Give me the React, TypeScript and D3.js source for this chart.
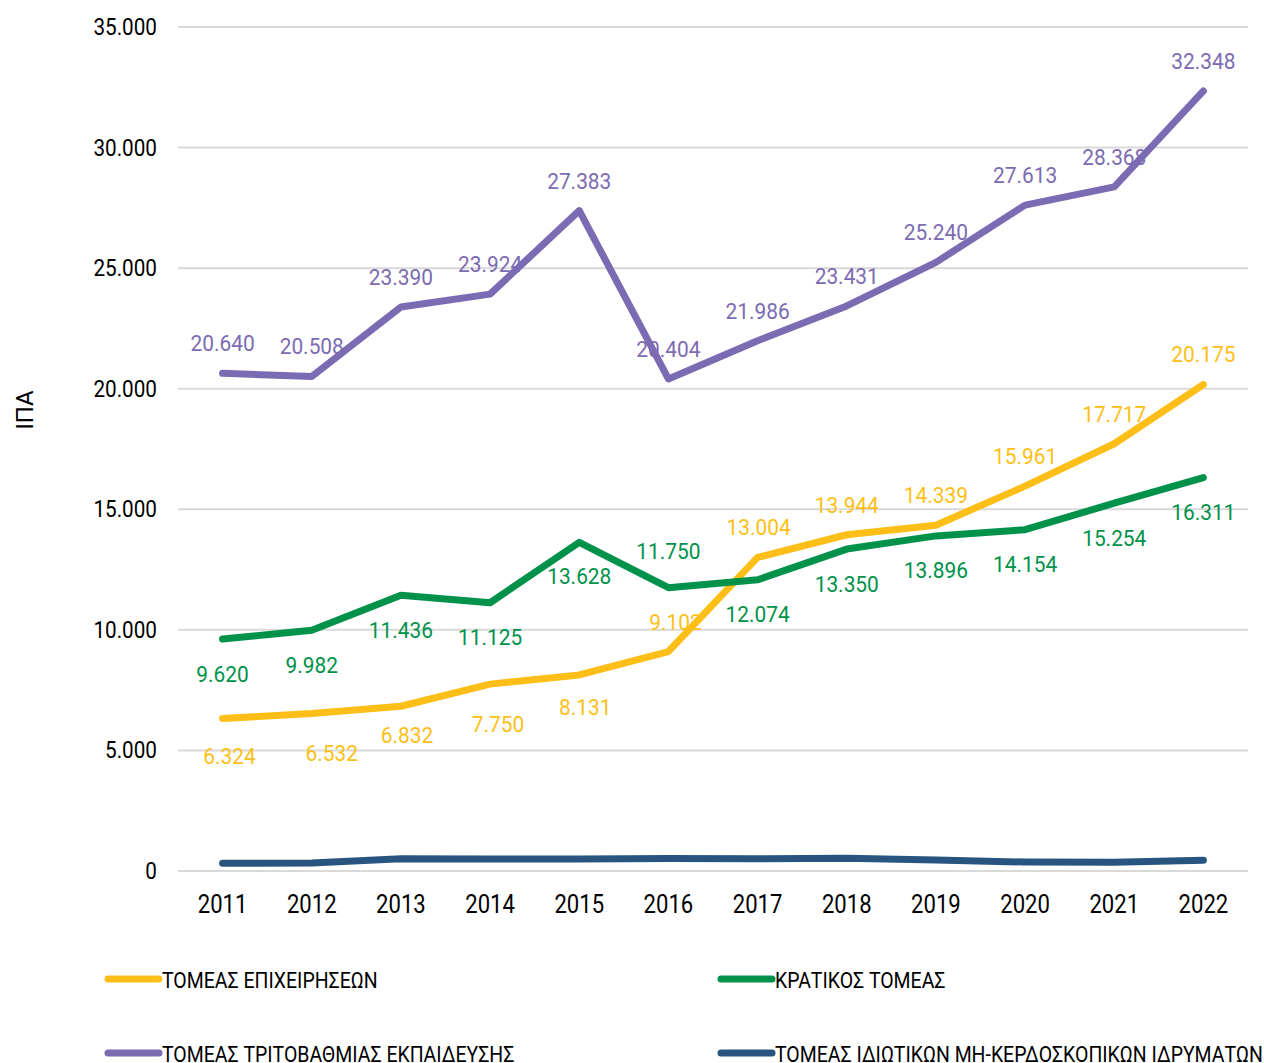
import React from "react";
import * as d3 from "d3";

const years = ["2011","2012","2013","2014","2015","2016","2017","2018","2019","2020","2021","2022"];
const businessValues = [6324, 6532, 6832, 7750, 8131, 9102, 13004, 13944, 14339, 15961, 17717, 20175];
const governmentValues = [9620, 9982, 11436, 11125, 13628, 11750, 12074, 13350, 13896, 14154, 15254, 16311];
const higherEduValues = [20640, 20508, 23390, 23924, 27383, 20404, 21986, 23431, 25240, 27613, 28368, 32348];
const privateNonProfitValues = [320, 330, 510, 500, 500, 520, 510, 530, 460, 370, 360, 450];
const yTicks = [0, 5000, 10000, 15000, 20000, 25000, 30000, 35000];

const seriesNames = [
  "ΤΟΜΕΑΣ ΕΠΙΧΕΙΡΗΣΕΩΝ",
  "ΚΡΑΤΙΚΟΣ ΤΟΜΕΑΣ",
  "ΤΟΜΕΑΣ ΤΡΙΤΟΒΑΘΜΙΑΣ ΕΚΠΑΙΔΕΥΣΗΣ",
  "ΤΟΜΕΑΣ ΙΔΙΩΤΙΚΩΝ ΜΗ-ΚΕΡΔΟΣΚΟΠΙΚΩΝ ΙΔΡΥΜΑΤΩΝ",
];
const colors = ["#FDBF17", "#00924A", "#7B6BB2", "#28557F"];

// label placement: 1 = above, -1 = below, 0 = none
const businessPlace = [-1, -1, -1, -1, -1, 1, 1, 1, 1, 1, 1, 1];
const governmentPlace = [-1, -1, -1, -1, -1, 1, -1, -1, -1, -1, -1, -1];
const higherPlace = [1, 1, 1, 1, 1, 1, 1, 1, 1, 1, 1, 1];
const noPlace = [0, 0, 0, 0, 0, 0, 0, 0, 0, 0, 0, 0];
const businessDx = [7, 20, 6, 8, 6, 7, 1, 0, 0, 0, 0, 0];
const businessDy = [3, 5, -6, 5, -2, 0, 0, 0, 0, 0, 0, 0];
const governmentDy = [0, 0, 0, 0, -1, -7, 0, 0, 0, 0, 0, 0];
const zeroOff = [0, 0, 0, 0, 0, 0, 0, 0, 0, 0, 0, 0];

const fmt = (v: number) => d3.format(",")(v).replace(/,/g, ".");

function SText(props: {
  x: number; y: number; sx: number; size: number; fill: string;
  anchor?: string; children: React.ReactNode; rotate?: number;
}) {
  const { x, y, sx, size, fill, anchor, children, rotate } = props;
  const tr = `translate(${x},${y})${rotate ? ` rotate(${rotate})` : ""} scale(${sx},1)`;
  return (
    <text transform={tr} textAnchor={anchor || "start"} fontSize={size} fill={fill}>
      {children}
    </text>
  );
}

export default function App() {
  const W = 1264, H = 1063;
  const left = 178, right = 1248, top = 27, bottom = 871;
  const x = d3.scaleBand<string>().domain(years).range([left, right]);
  const y = d3.scaleLinear().domain([0, 35000]).range([bottom, top]);
  const cx = (yr: string) => (x(yr) as number) + x.bandwidth() / 2;
  const line = d3.line<number>().x((_, i) => cx(years[i])).y((d) => y(d));

  const series = [
    { values: businessValues, place: businessPlace, dx: businessDx, dy: businessDy, color: colors[0] },
    { values: governmentValues, place: governmentPlace, dx: zeroOff, dy: governmentDy, color: colors[1] },
    { values: higherEduValues, place: higherPlace, dx: zeroOff, dy: zeroOff, color: colors[2] },
    { values: privateNonProfitValues, place: noPlace, dx: zeroOff, dy: zeroOff, color: colors[3] },
  ];
  const drawOrder = [3, 0, 1, 2];
  const font = "Roboto, sans-serif";

  const legendItems = [
    { i: 0, lx: 105, ly: 979 },
    { i: 1, lx: 718, ly: 979 },
    { i: 2, lx: 105, ly: 1053 },
    { i: 3, lx: 718, ly: 1053 },
  ];

  return (
    <svg width={W} height={H} style={{ position: "absolute", left: 0, top: 0 }} fontFamily={font}>
      <rect width={W} height={H} fill="#fff" />
      {yTicks.map((t) => (
        <g key={t}>
          <line x1={left} x2={right} y1={y(t)} y2={y(t)} stroke="#d9d9d9" strokeWidth={2} />
          <SText x={157} y={y(t) + 8} sx={0.9} size={23} anchor="end" fill="#000">
            {fmt(t)}
          </SText>
        </g>
      ))}
      {years.map((yr) => (
        <SText key={yr} x={cx(yr)} y={913} sx={0.85} size={26} anchor="middle" fill="#000">
          {yr}
        </SText>
      ))}
      <SText x={33} y={410} rotate={-90} sx={1} size={24} anchor="middle" fill="#000">
        ΙΠΑ
      </SText>
      {drawOrder.map((si) => (
        <path key={si} d={line(series[si].values) as string} fill="none" stroke={series[si].color}
          strokeWidth={7} strokeLinecap="round" strokeLinejoin="round" />
      ))}
      {series.map((s, si) =>
        s.values.map((v, i) =>
          s.place[i] === 0 ? null : (
            <SText key={si + "-" + i} x={cx(years[i]) + s.dx[i]}
              y={y(v) + (s.place[i] > 0 ? -22 : 42.5) + s.dy[i]}
              sx={0.95} size={22} anchor="middle" fill={s.color}>
              {fmt(v)}
            </SText>
          )
        )
      )}
      {legendItems.map(({ i, lx, ly }) => (
        <g key={i}>
          <line x1={lx + 3} x2={lx + 54} y1={ly} y2={ly} stroke={colors[i]} strokeWidth={7} strokeLinecap="round" />
          <SText x={lx + 57} y={ly + 9} sx={0.885} size={22} fill="#000">
            {seriesNames[i]}
          </SText>
        </g>
      ))}
    </svg>
  );
}
